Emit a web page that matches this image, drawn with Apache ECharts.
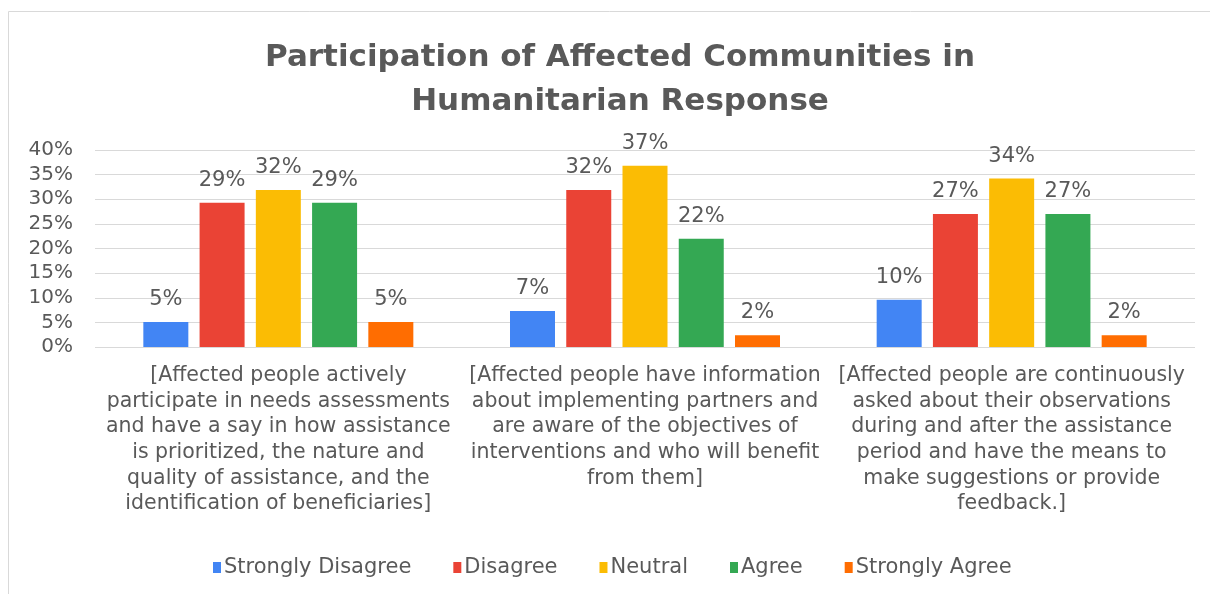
<!DOCTYPE html>
<html><head><meta charset="utf-8">
<script src="https://cdn.jsdelivr.net/npm/echarts@6/dist/echarts.min.js"></script>
<style>html,body{margin:0;padding:0;background:#fff}#c{width:1210px;height:594px}</style>
</head><body><div id="c"></div>
<script>
const categories = [
  "[Affected people actively\nparticipate in needs assessments\nand have a say in how assistance\nis prioritized, the nature and\nquality of assistance, and the\nidentification of beneficiaries]",
  "[Affected people have information\nabout implementing partners and\nare aware of the objectives of\ninterventions and who will benefit\nfrom them]",
  "[Affected people are continuously\nasked about their observations\nduring and after the assistance\nperiod and have the means to\nmake suggestions or provide\nfeedback.]"
];
const seriesNames = ["Strongly Disagree", "Disagree", "Neutral", "Agree", "Strongly Agree"];
const stronglyDisagree = [5.1, 7.3, 9.6];
const disagree = [29.3, 31.9, 27.0];
const neutral = [31.9, 36.8, 34.2];
const agree = [29.3, 22.0, 27.0];
const stronglyAgree = [5.1, 2.4, 2.4];
const colors = ["#4285F4", "#EA4335", "#FBBC04", "#34A853", "#FF6D01"];
const yTicks = { min: 0, max: 40, interval: 5 };

const values = [stronglyDisagree, disagree, neutral, agree, stronglyAgree];
const textColor = "#595959";
const font = "DejaVu Sans, Arial, sans-serif";
const chart = echarts.init(document.getElementById('c'));
chart.setOption({
  animation: false,
  color: colors,
  textStyle: { fontFamily: font },
  graphic: [{ type: 'rect', shape: { x: 8.5, y: 11.5, width: 1230, height: 620 }, style: { fill: 'none', stroke: '#d9d9d9', lineWidth: 1 }, z: -1 }],
  title: {
    text: "Participation of Affected Communities in\nHumanitarian Response",
    left: 615, top: 31, textAlign: 'center',
    textStyle: { fontSize: 31, fontWeight: 'bold', color: textColor, fontFamily: font, lineHeight: 44 }
  },
  legend: {
    bottom: 16, left: 213, itemWidth: 8, itemHeight: 11, itemGap: 42,
    icon: 'rect', padding: 0,
    textStyle: { fontSize: 21, color: textColor, fontFamily: font, padding: [0, 0, 0, -2] },
    data: seriesNames
  },
  grid: { left: 95, right: 15, top: 150, bottom: 247 },
  xAxis: {
    type: 'category', data: categories,
    axisLine: { show: false }, axisTick: { show: false },
    axisLabel: { interval: 0, fontSize: 20.5, color: textColor, lineHeight: 25.6, margin: 16, fontFamily: font, verticalAlign: 'top' }
  },
  yAxis: {
    type: 'value', min: yTicks.min, max: yTicks.max, interval: yTicks.interval,
    axisLabel: { formatter: '{value}%', fontSize: 20, color: textColor, margin: 22, fontFamily: font },
    splitLine: { lineStyle: { color: '#d9d9d9' } },
    axisLine: { show: false }, axisTick: { show: false }
  },
  series: seriesNames.map((n, i) => ({
    name: n, type: 'bar', data: values[i], barWidth: 45, barGap: '25%',
    label: { show: true, position: 'top', distance: 12, fontSize: 21, color: textColor, fontFamily: font,
      formatter: p => Math.round(p.value) + '%' }
  }))
});
</script></body></html>
